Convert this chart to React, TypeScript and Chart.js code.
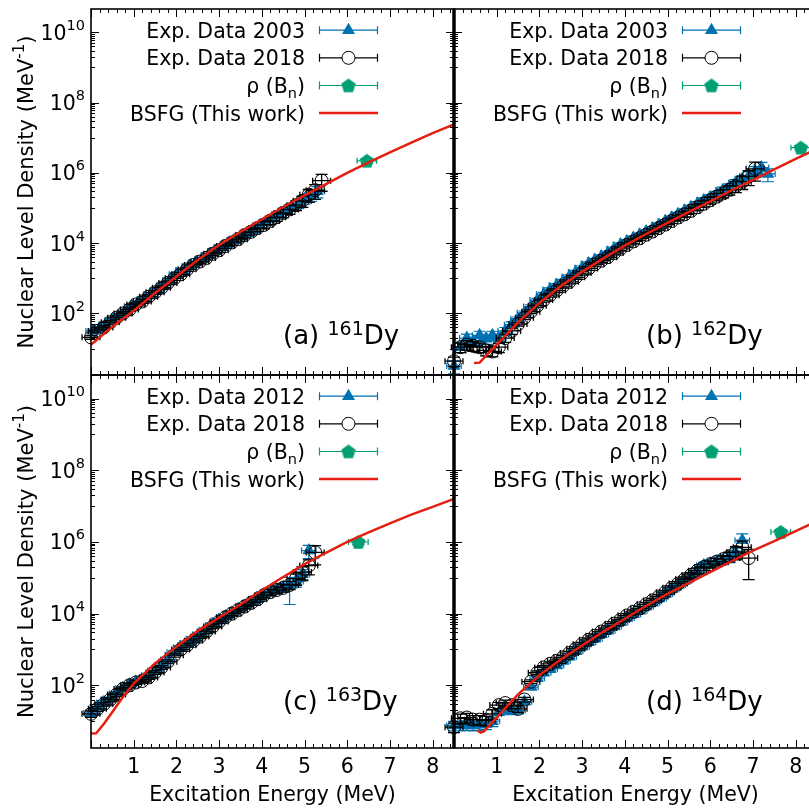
import React, { useEffect, useRef } from "react";
import { Chart, registerables } from "chart.js";

Chart.register(...registerables);

// ---------------- axis ticks / labels ----------------
const xTickValues = [1, 2, 3, 4, 5, 6, 7, 8];
const xTickLabels = ["1", "2", "3", "4", "5", "6", "7", "8"];
const yTickExponents = [2, 4, 6, 8, 10];
const yTickLabelExponents = ["2", "4", "6", "8", "10"];
const xTitle = "Excitation Energy (MeV)";
const yTitle = "Nuclear Level Density (MeV";
const legendLabels = ["Exp. Data 2018", "ρ (Bn)", "BSFG (This work)"];

// ---------------- panel (a) 161Dy ----------------
const aExpE = [0.05, 0.2, 0.35, 0.5, 0.65, 0.8, 0.95, 1.1, 1.25, 1.4, 1.55, 1.7, 1.85, 2.0, 2.15, 2.3, 2.45, 2.6, 2.75, 2.9, 3.05, 3.2, 3.35, 3.5, 3.65, 3.8, 3.95, 4.1, 4.25, 4.4, 4.55, 4.7, 4.85, 5.0, 5.15, 5.3];
const aExpRho = [3.2e1, 3.8e1, 4.8e1, 6.6e1, 8.3e1, 1.1e2, 1.6e2, 2.0e2, 2.6e2, 3.5e2, 4.6e2, 6.3e2, 8.9e2, 1.3e3, 1.7e3, 2.2e3, 2.8e3, 3.5e3, 4.6e3, 6.0e3, 7.6e3, 9.5e3, 1.2e4, 1.5e4, 1.9e4, 2.4e4, 3.2e4, 4.0e4, 5.0e4, 6.6e4, 8.3e4, 1.05e5, 1.3e5, 1.8e5, 2.2e5, 3.0e5];
const aExpErr = [0.12, 0.12, 0.12, 0.12, 0.12, 0.12, 0.12, 0.12, 0.12, 0.12, 0.12, 0.12, 0.12, 0.12, 0.12, 0.12, 0.12, 0.12, 0.12, 0.14, 0.14, 0.14, 0.16, 0.16, 0.17, 0.17, 0.18, 0.2, 0.2, 0.22, 0.22, 0.24, 0.26, 0.28, 0.3, 0.35];
const aNewE = [0, 0.15, 0.3, 0.45, 0.6, 0.75, 0.9, 1.05, 1.2, 1.35, 1.5, 1.65, 1.8, 1.95, 2.1, 2.25, 2.4, 2.55, 2.7, 2.85, 3.0, 3.15, 3.3, 3.45, 3.6, 3.75, 3.9, 4.05, 4.2, 4.35, 4.5, 4.65, 4.8, 4.95, 5.1, 5.25, 5.4];
const aNewRho = [2.1e1, 3.2e1, 4.0e1, 5.6e1, 7.6e1, 1.0e2, 1.3e2, 1.8e2, 2.2e2, 3.0e2, 4.0e2, 5.4e2, 7.4e2, 1.0e3, 1.3e3, 1.8e3, 2.4e3, 3.0e3, 3.8e3, 5.0e3, 6.3e3, 8.3e3, 1.05e4, 1.3e4, 1.7e4, 2.1e4, 2.7e4, 3.3e4, 4.3e4, 5.5e4, 7.2e4, 9.1e4, 1.2e5, 1.6e5, 2.4e5, 3.2e5, 6.0e5];
const aNewErr = [0.12, 0.12, 0.12, 0.12, 0.12, 0.12, 0.12, 0.12, 0.12, 0.12, 0.12, 0.12, 0.12, 0.12, 0.12, 0.12, 0.12, 0.12, 0.12, 0.12, 0.14, 0.14, 0.16, 0.16, 0.17, 0.18, 0.2, 0.22, 0.22, 0.24, 0.26, 0.28, 0.3, 0.35, 0.4, 0.45, 0.5];
const aBnE = [6.46];
const aBnRho = [2.2e6];
const aBnErr = [0.15];
const aFitE = [0, 0.5, 1, 1.5, 2, 2.5, 3, 3.5, 4, 4.5, 5, 5.5, 6, 6.5, 7, 7.5, 8, 8.5];
const aFitRho = [1.3e1, 4.2e1, 1.2e2, 3.8e2, 1.12e3, 3.3e3, 8.9e3, 2.1e4, 4.8e4, 1.07e5, 2.3e5, 4.8e5, 1.0e6, 2.0e6, 3.8e6, 7.2e6, 1.35e7, 2.4e7];

// ---------------- panel (b) 162Dy ----------------
const bExpE = [0, 0.15, 0.3, 0.45, 0.6, 0.75, 0.9, 1.05, 1.2, 1.35, 1.5, 1.65, 1.8, 1.95, 2.1, 2.25, 2.4, 2.55, 2.7, 2.85, 3.0, 3.15, 3.3, 3.45, 3.6, 3.75, 3.9, 4.05, 4.2, 4.35, 4.5, 4.65, 4.8, 4.95, 5.1, 5.25, 5.4, 5.55, 5.7, 5.85, 6.0, 6.15, 6.3, 6.45, 6.6, 6.75, 6.9, 7.05, 7.2, 7.35];
const bExpRho = [3.2, 11, 20, 16, 24, 19, 24, 20, 32, 48, 71, 105, 158, 240, 355, 479, 631, 832, 1.12e3, 1.51e3, 2.0e3, 2.63e3, 3.31e3, 4.17e3, 5.25e3, 6.92e3, 9.12e3, 1.12e4, 1.41e4, 1.74e4, 2.14e4, 2.63e4, 3.31e4, 4.17e4, 5.25e4, 6.61e4, 8.32e4, 1.05e5, 1.32e5, 1.66e5, 2.0e5, 2.5e5, 3.2e5, 4.0e5, 5.2e5, 6.6e5, 8.3e5, 1.12e6, 1.41e6, 9.3e5];
const bExpErr = [0.4, 0.3, 0.3, 0.3, 0.3, 0.3, 0.3, 0.3, 0.25, 0.2, 0.12, 0.12, 0.12, 0.12, 0.12, 0.12, 0.12, 0.12, 0.12, 0.12, 0.12, 0.12, 0.12, 0.12, 0.12, 0.12, 0.12, 0.12, 0.12, 0.12, 0.12, 0.12, 0.12, 0.12, 0.12, 0.14, 0.14, 0.16, 0.16, 0.17, 0.18, 0.2, 0.22, 0.22, 0.24, 0.26, 0.3, 0.35, 0.4, 0.4];
const bNewE = [0, 0.15, 0.3, 0.45, 0.6, 0.75, 0.9, 1.05, 1.2, 1.35, 1.5, 1.65, 1.8, 1.95, 2.1, 2.25, 2.4, 2.55, 2.7, 2.85, 3.0, 3.15, 3.3, 3.45, 3.6, 3.75, 3.9, 4.05, 4.2, 4.35, 4.5, 4.65, 4.8, 4.95, 5.1, 5.25, 5.4, 5.55, 5.7, 5.85, 6.0, 6.15, 6.3, 6.45, 6.6, 6.75, 6.9, 7.05];
const bNewRho = [4.4, 11, 13, 12, 11, 8.9, 8.3, 11, 20, 32, 50, 76, 112, 166, 240, 331, 447, 603, 794, 1.07e3, 1.41e3, 1.91e3, 2.51e3, 3.16e3, 3.98e3, 5.25e3, 6.92e3, 8.91e3, 1.12e4, 1.38e4, 1.74e4, 2.14e4, 2.69e4, 3.39e4, 4.27e4, 5.37e4, 6.6e4, 8.3e4, 1.05e5, 1.32e5, 1.66e5, 2.1e5, 2.6e5, 3.3e5, 4.2e5, 5.6e5, 7.9e5, 1.3e6];
const bNewErr = [0.3, 0.3, 0.3, 0.3, 0.3, 0.3, 0.3, 0.3, 0.25, 0.2, 0.12, 0.12, 0.12, 0.12, 0.12, 0.12, 0.12, 0.12, 0.12, 0.12, 0.12, 0.12, 0.12, 0.12, 0.12, 0.12, 0.12, 0.12, 0.12, 0.12, 0.12, 0.12, 0.12, 0.12, 0.14, 0.14, 0.16, 0.17, 0.18, 0.2, 0.22, 0.24, 0.26, 0.3, 0.35, 0.4, 0.45, 0.55];
const bBnE = [8.12];
const bBnRho = [5.2e6];
const bBnErr = [0.15];
const bFitE = [0.47, 0.6, 1, 1.5, 2, 2.5, 3, 3.5, 4, 4.5, 5, 5.5, 6, 6.5, 7, 7.5, 8, 8.5];
const bFitRho = [3.9, 4.0, 13, 56, 200, 600, 1.55e3, 3.7e3, 8.5e3, 1.82e4, 3.8e4, 7.8e4, 1.55e5, 3.2e5, 6.3e5, 1.26e6, 2.5e6, 4.8e6];

// ---------------- panel (c) 163Dy ----------------
const cExpE = [0, 0.15, 0.3, 0.45, 0.6, 0.75, 0.9, 1.05, 1.2, 1.35, 1.5, 1.65, 1.8, 1.95, 2.1, 2.25, 2.4, 2.55, 2.7, 2.85, 3.0, 3.15, 3.3, 3.45, 3.6, 3.75, 3.9, 4.05, 4.2, 4.35, 4.5, 4.65, 4.8, 4.95, 5.1];
const cExpRho = [17, 25, 33, 42, 60, 83, 105, 126, 141, 191, 263, 355, 525, 832, 1150, 1510, 2000, 2630, 3550, 4790, 6610, 8320, 1.05e4, 1.32e4, 1.66e4, 2.09e4, 2.63e4, 3.55e4, 4.17e4, 4.79e4, 5.5e4, 6.0e4, 7.9e4, 1.26e5, 5.75e5];
const cExpErr = [0.2, 0.15, 0.12, 0.12, 0.12, 0.12, 0.12, 0.12, 0.12, 0.12, 0.12, 0.12, 0.12, 0.12, 0.12, 0.12, 0.12, 0.12, 0.12, 0.12, 0.12, 0.12, 0.12, 0.12, 0.12, 0.14, 0.16, 0.17, 0.2, 0.22, 0.26, 0.7, 0.3, 0.35, 0.4];
const cNewE = [0, 0.15, 0.3, 0.45, 0.6, 0.75, 0.9, 1.05, 1.2, 1.35, 1.5, 1.65, 1.8, 1.95, 2.1, 2.25, 2.4, 2.55, 2.7, 2.85, 3.0, 3.15, 3.3, 3.45, 3.6, 3.75, 3.9, 4.05, 4.2, 4.35, 4.5, 4.65, 4.8, 4.95, 5.1, 5.25];
const cNewRho = [16, 22, 30, 40, 55, 79, 100, 120, 132, 166, 229, 316, 457, 692, 1000, 1320, 1740, 2290, 3160, 4370, 6030, 7940, 1.0e4, 1.26e4, 1.58e4, 2.0e4, 2.51e4, 3.31e4, 3.98e4, 4.57e4, 5.25e4, 6.31e4, 9.55e4, 1.45e5, 2.19e5, 5.1e5];
const cNewErr = [0.2, 0.15, 0.12, 0.12, 0.12, 0.12, 0.12, 0.12, 0.12, 0.12, 0.12, 0.12, 0.12, 0.12, 0.12, 0.12, 0.12, 0.12, 0.12, 0.12, 0.12, 0.12, 0.12, 0.12, 0.12, 0.14, 0.16, 0.17, 0.2, 0.22, 0.24, 0.26, 0.35, 0.4, 0.45, 0.55];
const cBnE = [6.26];
const cBnRho = [1.0e6];
const cBnErr = [0.15];
const cFitE = [0, 0.12, 0.3, 0.5, 0.75, 1, 1.5, 2, 2.5, 3, 3.5, 4, 4.5, 5, 5.5, 6, 6.5, 7, 7.5, 8, 8.5];
const cFitRho = [4.5, 4.6, 8.3, 18, 48, 112, 410, 1.2e3, 3.3e3, 7.8e3, 1.8e4, 4.5e4, 1.05e5, 2.4e5, 5.0e5, 1.0e6, 1.86e6, 3.3e6, 5.8e6, 9.5e6, 1.6e7];

// ---------------- panel (d) 164Dy ----------------
const dExpE = [0, 0.15, 0.3, 0.45, 0.6, 0.75, 0.9, 1.05, 1.2, 1.35, 1.5, 1.65, 1.8, 1.95, 2.1, 2.25, 2.4, 2.55, 2.7, 2.85, 3.0, 3.15, 3.3, 3.45, 3.6, 3.75, 3.9, 4.05, 4.2, 4.35, 4.5, 4.65, 4.8, 4.95, 5.1, 5.25, 5.4, 5.55, 5.7, 5.85, 6.0, 6.15, 6.3, 6.45, 6.6, 6.75];
const dExpRho = [7.6, 7.6, 7.9, 7.6, 7.9, 8.3, 10, 18, 20, 19, 20, 35, 89, 158, 224, 282, 355, 479, 631, 891, 1200, 1580, 2000, 2630, 3310, 4370, 5750, 7590, 9550, 1.2e4, 1.58e4, 2.0e4, 2.63e4, 3.55e4, 4.79e4, 6.31e4, 8.32e4, 1.12e5, 1.58e5, 2.24e5, 2.51e5, 2.82e5, 3.16e5, 3.8e5, 5.0e5, 1.12e6];
const dExpErr = [0.3, 0.3, 0.3, 0.3, 0.3, 0.3, 0.3, 0.2, 0.2, 0.2, 0.2, 0.15, 0.12, 0.12, 0.12, 0.12, 0.12, 0.12, 0.12, 0.12, 0.12, 0.12, 0.12, 0.12, 0.12, 0.12, 0.12, 0.12, 0.12, 0.12, 0.12, 0.12, 0.12, 0.12, 0.14, 0.14, 0.16, 0.17, 0.18, 0.2, 0.22, 0.24, 0.26, 0.3, 0.35, 0.5];
const dNewE = [0, 0.15, 0.3, 0.45, 0.6, 0.75, 0.9, 1.05, 1.2, 1.35, 1.5, 1.65, 1.8, 1.95, 2.1, 2.25, 2.4, 2.55, 2.7, 2.85, 3.0, 3.15, 3.3, 3.45, 3.6, 3.75, 3.9, 4.05, 4.2, 4.35, 4.5, 4.65, 4.8, 4.95, 5.1, 5.25, 5.4, 5.55, 5.7, 5.85, 6.0, 6.15, 6.3, 6.45, 6.6, 6.75, 6.9];
const dNewRho = [6.8, 12, 12.6, 11, 11, 10.5, 16, 28, 32, 28, 22, 40, 126, 224, 316, 398, 479, 603, 794, 1050, 1410, 1860, 2400, 3160, 3980, 5250, 6760, 8910, 1.12e4, 1.41e4, 1.82e4, 2.34e4, 3.02e4, 3.98e4, 5.25e4, 6.92e4, 9.12e4, 1.2e5, 1.58e5, 2.0e5, 2.4e5, 2.82e5, 3.31e5, 3.98e5, 5.25e5, 7.08e5, 3.55e5];
const dNewErr = [0.3, 0.3, 0.3, 0.3, 0.3, 0.3, 0.3, 0.2, 0.2, 0.2, 0.2, 0.15, 0.12, 0.12, 0.12, 0.12, 0.12, 0.12, 0.12, 0.12, 0.12, 0.12, 0.12, 0.12, 0.12, 0.12, 0.12, 0.12, 0.12, 0.12, 0.12, 0.12, 0.12, 0.12, 0.14, 0.14, 0.16, 0.17, 0.18, 0.2, 0.22, 0.24, 0.26, 0.3, 0.4, 0.5, 0.75];
const dBnE = [7.65];
const dBnRho = [1.9e6];
const dBnErr = [0.15];
const dFitE = [0.55, 0.62, 0.7, 1, 1.5, 2, 2.5, 3, 3.5, 4, 4.5, 5, 5.5, 6, 6.5, 7, 7.5, 8, 8.5];
const dFitRho = [5.6, 4.8, 5.2, 12.6, 56, 190, 525, 1.29e3, 3.16e3, 7.2e3, 1.66e4, 3.55e4, 7.2e4, 1.45e5, 2.9e5, 5.75e5, 1.05e6, 2.0e6, 3.8e6];

// ---------------- layout / style ----------------
const CANVAS_W = 830;
const CANVAS_H = 812;
const PLOT_W = 363;
const PLOT_H = 373;
const X_MIN = 0;
const X_MAX = 8.5;
const Y_MIN = 1.78;
const Y_MAX = 4.57e10;
const FONT = '"DejaVu Sans", "Liberation Sans", sans-serif';
const BLUE = "#0072b2";
const GREEN = "#009e73";
const RED = "#e51e10";
const MAIN = 20.5;
const SUB = 14.5;

interface PanelDef {
  tag: string;
  mass: string;
  left: number;
  top: number;
  expLabel: string;
  expE: number[]; expRho: number[]; expErr: number[]; expDx: number;
  newE: number[]; newRho: number[]; newErr: number[]; newDx: number;
  bnE: number[]; bnRho: number[]; bnErr: number[]; bnDx: number;
  fitE: number[]; fitRho: number[];
  yLabels: boolean;
  xLabels: boolean;
  joinLeft: boolean;
}

const PANELS: PanelDef[] = [
  { tag: "(a) ", mass: "161", left: 91, top: 2, expLabel: "Exp. Data 2003",
    expE: aExpE, expRho: aExpRho, expErr: aExpErr, expDx: 0.17,
    newE: aNewE, newRho: aNewRho, newErr: aNewErr, newDx: 0.21,
    bnE: aBnE, bnRho: aBnRho, bnErr: aBnErr, bnDx: 0.23,
    fitE: aFitE, fitRho: aFitRho, yLabels: true, xLabels: false, joinLeft: false },
  { tag: "(b) ", mass: "162", left: 454, top: 2, expLabel: "Exp. Data 2003",
    expE: bExpE, expRho: bExpRho, expErr: bExpErr, expDx: 0.17,
    newE: bNewE, newRho: bNewRho, newErr: bNewErr, newDx: 0.21,
    bnE: bBnE, bnRho: bBnRho, bnErr: bBnErr, bnDx: 0.23,
    fitE: bFitE, fitRho: bFitRho, yLabels: false, xLabels: false, joinLeft: true },
  { tag: "(c) ", mass: "163", left: 91, top: 375, expLabel: "Exp. Data 2012",
    expE: cExpE, expRho: cExpRho, expErr: cExpErr, expDx: 0.17,
    newE: cNewE, newRho: cNewRho, newErr: cNewErr, newDx: 0.21,
    bnE: cBnE, bnRho: cBnRho, bnErr: cBnErr, bnDx: 0.23,
    fitE: cFitE, fitRho: cFitRho, yLabels: true, xLabels: true, joinLeft: false },
  { tag: "(d) ", mass: "164", left: 454, top: 375, expLabel: "Exp. Data 2012",
    expE: dExpE, expRho: dExpRho, expErr: dExpErr, expDx: 0.17,
    newE: dNewE, newRho: dNewRho, newErr: dNewErr, newDx: 0.21,
    bnE: dBnE, bnRho: dBnRho, bnErr: dBnErr, bnDx: 0.23,
    fitE: dFitE, fitRho: dFitRho, yLabels: false, xLabels: true, joinLeft: true },
];

type Run = { t: string; size: number; dy?: number };

function drawRuns(ctx: CanvasRenderingContext2D, runs: Run[], x: number, y: number, align: string) {
  let w = 0;
  for (const r of runs) {
    ctx.font = `${r.size}px ${FONT}`;
    w += ctx.measureText(r.t).width;
  }
  let cx = align === "left" ? x : align === "right" ? x - w : x - w / 2;
  ctx.textAlign = "left";
  ctx.textBaseline = "alphabetic";
  for (const r of runs) {
    ctx.font = `${r.size}px ${FONT}`;
    ctx.fillText(r.t, cx, y + (r.dy || 0));
    cx += ctx.measureText(r.t).width;
  }
}

function labelRuns(label: string): Run[] {
  if (label.includes("(Bn)")) {
    return [
      { t: "ρ (B", size: MAIN },
      { t: "n", size: SUB, dy: 5 },
      { t: ")", size: MAIN },
    ];
  }
  return [{ t: label, size: MAIN }];
}

function trianglePath(ctx: CanvasRenderingContext2D, x: number, y: number, r: number) {
  let rad = 0;
  ctx.beginPath();
  ctx.moveTo(x + Math.sin(rad) * r, y - Math.cos(rad) * r);
  rad += (2 * Math.PI) / 3;
  ctx.lineTo(x + Math.sin(rad) * r, y - Math.cos(rad) * r);
  rad += (2 * Math.PI) / 3;
  ctx.lineTo(x + Math.sin(rad) * r, y - Math.cos(rad) * r);
  ctx.closePath();
}

function makePentagon(): HTMLCanvasElement {
  const c = document.createElement("canvas");
  c.width = 16;
  c.height = 16;
  const g = c.getContext("2d")!;
  g.fillStyle = GREEN;
  g.beginPath();
  for (let k = 0; k < 5; k++) {
    const a = -Math.PI / 2 + (k * 2 * Math.PI) / 5;
    const px = 8 + Math.cos(a) * 7.6;
    const py = 8.6 + Math.sin(a) * 7.6;
    if (k === 0) g.moveTo(px, py);
    else g.lineTo(px, py);
  }
  g.closePath();
  g.fill();
  return c;
}

function errorBars(ctx: CanvasRenderingContext2D, xs: any, ys: any, pts: { x: number; y: number }[], rel: number[], dx: number, color: string, cap: number, lw: number) {
  ctx.save();
  ctx.strokeStyle = color;
  ctx.lineWidth = lw;
  ctx.beginPath();
  pts.forEach((pt, i) => {
    const px = xs.getPixelForValue(pt.x);
    const py = ys.getPixelForValue(pt.y);
    const x1 = xs.getPixelForValue(pt.x - dx);
    const x2 = xs.getPixelForValue(pt.x + dx);
    const r = rel[i] ?? 0.1;
    const y1 = ys.getPixelForValue(pt.y * (1 + r));
    const y2 = ys.getPixelForValue(pt.y * (1 - r));
    ctx.moveTo(x1, py); ctx.lineTo(x2, py);
    ctx.moveTo(x1, py - cap); ctx.lineTo(x1, py + cap);
    ctx.moveTo(x2, py - cap); ctx.lineTo(x2, py + cap);
    ctx.moveTo(px, y1); ctx.lineTo(px, y2);
    ctx.moveTo(px - cap * 2, y1); ctx.lineTo(px + cap * 2, y1);
    ctx.moveTo(px - cap * 2, y2); ctx.lineTo(px + cap * 2, y2);
  });
  ctx.stroke();
  ctx.restore();
}

function panelPlugin(p: PanelDef, pent: HTMLCanvasElement) {
  return {
    id: "panelDecor",
    beforeDatasetDraw(chart: any, args: any) {
      const ds = chart.data.datasets[args.index];
      if (!ds.errRel) return;
      errorBars(chart.ctx, chart.scales.x, chart.scales.y, ds.data, ds.errRel, ds.errDx, ds.errColor, 3, ds.errColor === "#000" ? 1.3 : 1.2);
    },
    afterDatasetsDraw(chart: any) {
      const ctx: CanvasRenderingContext2D = chart.ctx;
      const a = chart.chartArea;
      const xs = chart.scales.x;
      const ys = chart.scales.y;
      ctx.save();
      ctx.strokeStyle = "#000";
      ctx.lineWidth = 1;
      ctx.beginPath();
      // x ticks: major each MeV, minor each 0.2 MeV
      for (let i = 0; i <= 42; i++) {
        const v = i * 0.2;
        if (v > X_MAX) break;
        const major = i % 5 === 0;
        const len = major ? 8 : 4;
        const px = Math.round(xs.getPixelForValue(v)) + 0.5;
        ctx.moveTo(px, a.bottom); ctx.lineTo(px, a.bottom - len);
        ctx.moveTo(px, a.top); ctx.lineTo(px, a.top + len);
      }
      // y ticks: major at 10^(2n), minor at k*10^(2n+1)
      for (const e of yTickExponents) {
        const py = Math.round(ys.getPixelForValue(Math.pow(10, e))) + 0.5;
        ctx.moveTo(a.left, py); ctx.lineTo(a.left + 8, py);
        ctx.moveTo(a.right, py); ctx.lineTo(a.right - 8, py);
      }
      for (const e of [1, 3, 5, 7, 9]) {
        for (let k = 1; k <= 9; k++) {
          const v = k * Math.pow(10, e);
          if (v < Y_MIN || v > Y_MAX) continue;
          const py = Math.round(ys.getPixelForValue(v)) + 0.5;
          ctx.moveTo(a.left, py); ctx.lineTo(a.left + 4, py);
          ctx.moveTo(a.right, py); ctx.lineTo(a.right - 4, py);
        }
      }
      ctx.stroke();
      ctx.lineWidth = 1.6;
      ctx.strokeRect(a.left, a.top, a.right - a.left, a.bottom - a.top);
      if (p.joinLeft) {
        ctx.lineWidth = 3.5;
        ctx.beginPath();
        ctx.moveTo(a.left, a.top);
        ctx.lineTo(a.left, a.bottom);
        ctx.stroke();
      }
      ctx.restore();
    },
    afterDraw(chart: any) {
      const ctx: CanvasRenderingContext2D = chart.ctx;
      const a = chart.chartArea;
      const xs = chart.scales.x;
      const ys = chart.scales.y;
      ctx.save();
      ctx.fillStyle = "#000";
      // y tick labels
      if (p.yLabels) {
        yTickExponents.forEach((e, i) => {
          const py = ys.getPixelForValue(Math.pow(10, e));
          drawRuns(ctx, [{ t: "10", size: MAIN }, { t: yTickLabelExponents[i], size: SUB, dy: -10 }], a.left - 6, py + 7.5, "right");
        });
        // y title
        ctx.save();
        ctx.translate(32.5, (a.top + a.bottom) / 2);
        ctx.rotate(-Math.PI / 2);
        drawRuns(ctx, [{ t: yTitle, size: 21 }, { t: "-1", size: 15, dy: -9 }, { t: ")", size: 21 }], 0, 0, "center");
        ctx.restore();
      }
      if (p.xLabels) {
        xTickValues.forEach((v, i) => {
          const px = xs.getPixelForValue(v);
          drawRuns(ctx, [{ t: xTickLabels[i], size: MAIN }], px, a.bottom + 25, "center");
        });
        drawRuns(ctx, [{ t: xTitle, size: MAIN }], (a.left + a.right) / 2, a.bottom + 53, "center");
      }
      // panel label
      drawRuns(ctx, [{ t: p.tag, size: 26 }, { t: p.mass, size: 19, dy: -9.5 }, { t: "Dy", size: 26 }], a.left + 192, a.top + 335, "left");
      // legend
      const rows = [p.expLabel, legendLabels[0], legendLabels[1], legendLabels[2]];
      const baselines = [28.7, 56.3, 84, 111.5];
      const sx1 = a.left + 228;
      const sx2 = a.left + 287;
      const mx = a.left + 257.5;
      rows.forEach((label, i) => {
        const by = a.top + baselines[i];
        drawRuns(ctx, labelRuns(label), a.left + 214, by, "right");
        const cy = by - 7.5;
        ctx.save();
        if (i < 3) {
          const col = i === 0 ? BLUE : i === 1 ? "#000" : GREEN;
          ctx.strokeStyle = col;
          ctx.lineWidth = 1.2;
          ctx.beginPath();
          ctx.moveTo(sx1, cy); ctx.lineTo(sx2, cy);
          ctx.moveTo(sx1 + 0.5, cy - 4); ctx.lineTo(sx1 + 0.5, cy + 4);
          ctx.moveTo(sx2 - 0.5, cy - 4); ctx.lineTo(sx2 - 0.5, cy + 4);
          ctx.stroke();
          if (i === 0) {
            ctx.fillStyle = BLUE;
            trianglePath(ctx, mx, cy, 7.5);
            ctx.fill();
          } else if (i === 1) {
            ctx.fillStyle = "#fff";
            ctx.lineWidth = 1;
            ctx.beginPath();
            ctx.arc(mx, cy, 6.5, 0, Math.PI * 2);
            ctx.fill();
            ctx.stroke();
          } else {
            ctx.drawImage(pent, mx - pent.width / 2, cy - pent.height / 2);
          }
        } else {
          ctx.strokeStyle = RED;
          ctx.lineWidth = 2.5;
          ctx.beginPath();
          ctx.moveTo(sx1, cy); ctx.lineTo(sx2, cy);
          ctx.stroke();
        }
        ctx.restore();
      });
      ctx.restore();
    },
  };
}

function buildConfig(p: PanelDef, pent: HTMLCanvasElement): any {
  const pts = (xs: number[], ys: number[]) => xs.map((x, i) => ({ x, y: ys[i] })).filter((d) => d.y !== undefined);
  return {
    type: "scatter",
    data: {
      datasets: [
        { label: legendLabels[2], data: pts(p.fitE, p.fitRho), showLine: true, borderColor: RED, borderWidth: 2.5,
          pointRadius: 0, pointHoverRadius: 0, fill: false, tension: 0, order: 0, clip: false },
        { label: legendLabels[1], data: pts(p.bnE, p.bnRho), pointStyle: pent, pointRadius: 8, order: 1, clip: false,
          errRel: p.bnErr, errDx: p.bnDx, errColor: GREEN },
        { label: legendLabels[0], data: pts(p.newE, p.newRho), pointStyle: "circle", pointRadius: 6.5, borderColor: "#000",
          borderWidth: 1, backgroundColor: "rgba(0,0,0,0)", order: 2, clip: false, errRel: p.newErr, errDx: p.newDx, errColor: "#000" },
        { label: p.expLabel, data: pts(p.expE, p.expRho), pointStyle: "triangle", pointRadius: 7.5, backgroundColor: BLUE,
          borderColor: BLUE, borderWidth: 0, order: 3, clip: false, errRel: p.expErr, errDx: p.expDx, errColor: BLUE },
      ],
    },
    options: {
      responsive: false,
      animation: false,
      devicePixelRatio: 1,
      events: [],
      layout: {
        padding: { left: p.left, top: p.top, right: CANVAS_W - p.left - PLOT_W, bottom: CANVAS_H - p.top - PLOT_H },
      },
      plugins: { legend: { display: false }, tooltip: { enabled: false }, title: { display: false } },
      scales: {
        x: { type: "linear", min: X_MIN, max: X_MAX, display: false },
        y: { type: "logarithmic", min: Y_MIN, max: Y_MAX, display: false },
      },
    },
    plugins: [panelPlugin(p, pent)],
  };
}

export default function App() {
  const r0 = useRef<HTMLCanvasElement>(null);
  const r1 = useRef<HTMLCanvasElement>(null);
  const r2 = useRef<HTMLCanvasElement>(null);
  const r3 = useRef<HTMLCanvasElement>(null);
  const refs = [r0, r1, r2, r3];

  useEffect(() => {
    const pent = makePentagon();
    const charts = PANELS.map((p, i) => new Chart(refs[i].current as HTMLCanvasElement, buildConfig(p, pent)));
    return () => charts.forEach((c) => c.destroy());
  }, []);

  return (
    <div style={{ position: "fixed", left: 0, top: 0, width: 809, height: 812, overflow: "hidden", background: "#fff" }}>
      {PANELS.map((p, i) => (
        <canvas key={p.tag} ref={refs[i]} width={CANVAS_W} height={CANVAS_H}
          style={{ position: "absolute", left: 0, top: 0, width: CANVAS_W, height: CANVAS_H }} />
      ))}
    </div>
  );
}
